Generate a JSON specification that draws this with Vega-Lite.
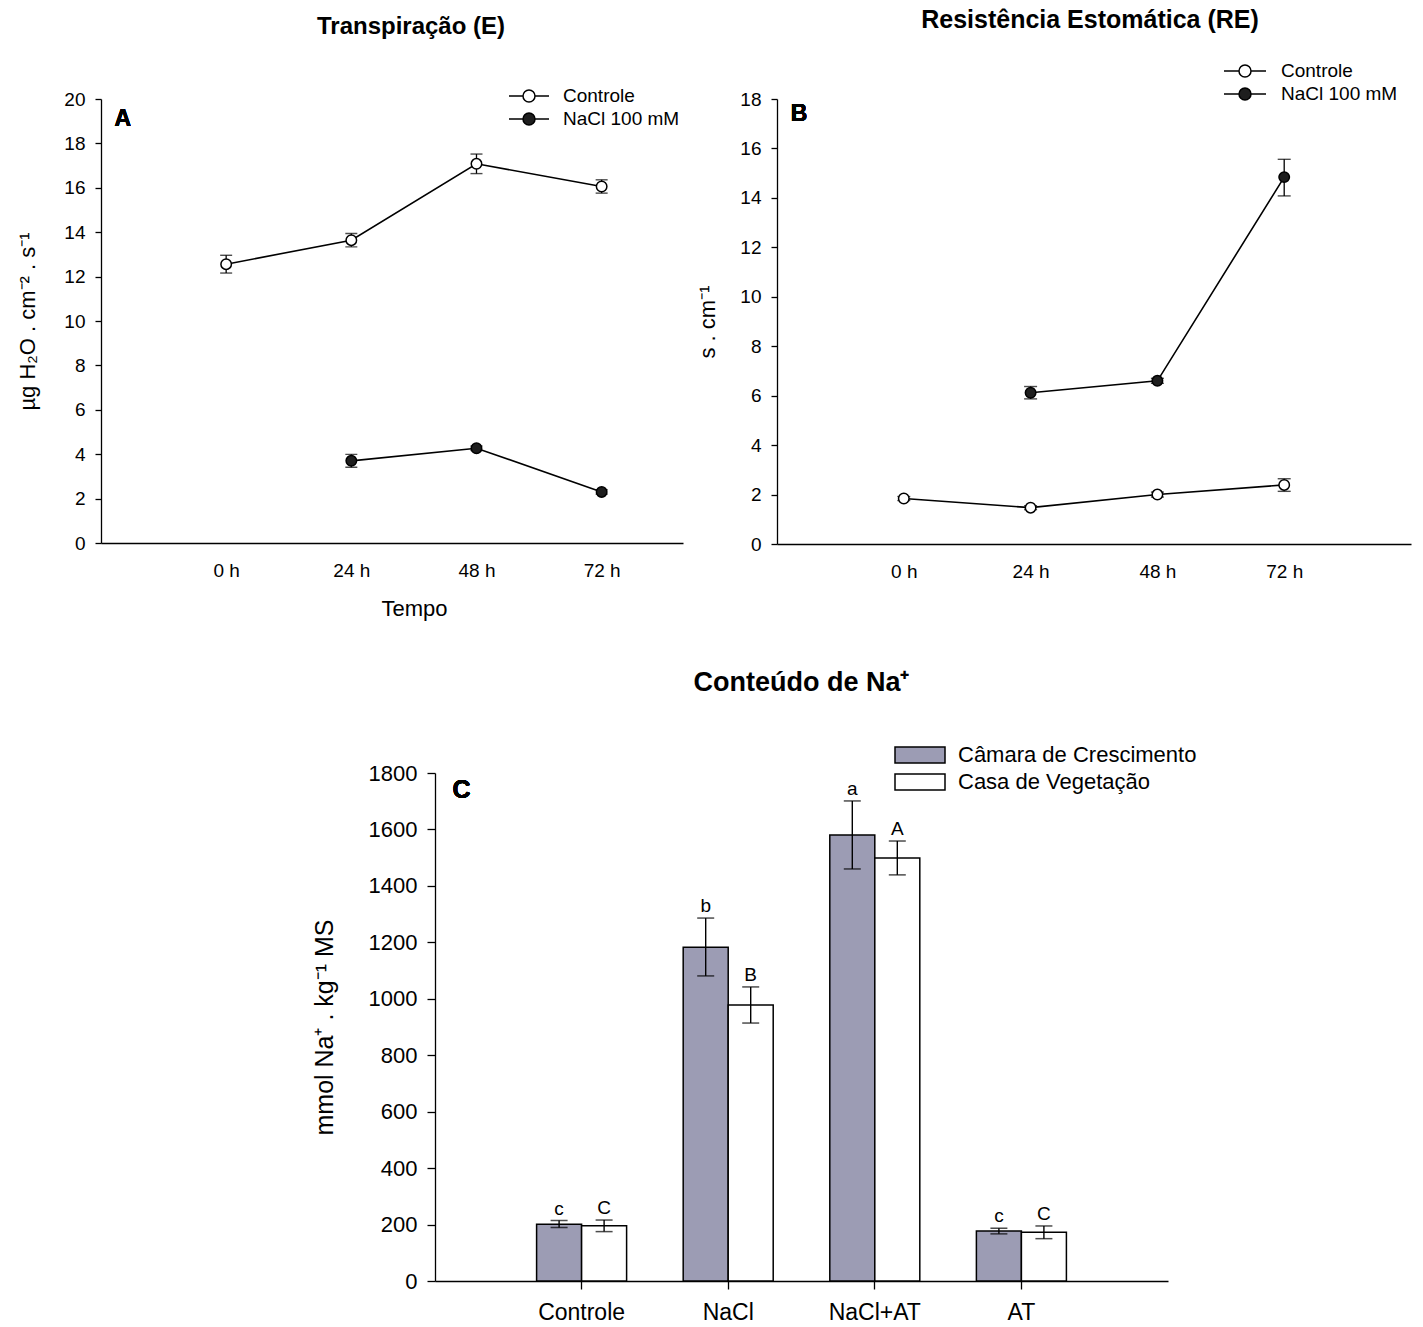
{
  "$schema": "https://vega.github.io/schema/vega-lite/v6.json",
  "background": "white",
  "padding": {"left": 16, "top": 8, "right": 5, "bottom": 5},
  "config": {
    "font": "Liberation Sans",
    "view": {"stroke": null},
    "axis": {"domainColor": "black", "tickColor": "black", "labelColor": "black", "titleColor": "black", "grid": false, "labelFont": "Liberation Sans", "titleFont": "Liberation Sans", "titleFontWeight": "normal", "domainWidth": 1.3, "tickWidth": 1.3},
    "title": {"font": "Liberation Sans", "fontWeight": "bold", "color": "black"},
    "legend": {"labelFont": "Liberation Sans", "labelColor": "black", "labelLimit": 400}
  },
  "resolve": {"scale": {"fill": "independent"}, "legend": {"fill": "independent"}},
  "spacing": 50,
  "vconcat": [
    {
      "spacing": 13,
      "resolve": {"scale": {"fill": "independent"}, "legend": {"fill": "independent"}},
      "hconcat": [
        {
          "title": {"text": "Transpiração (E)", "fontSize": 24, "offset": 46, "dx": 19},
          "width": 582,
          "height": 444,
          "data": {"values": [
            {"serie": "Controle", "t": 0, "v": 12.56, "lo": 12.16, "hi": 12.96},
            {"serie": "Controle", "t": 24, "v": 13.64, "lo": 13.34, "hi": 13.94},
            {"serie": "Controle", "t": 48, "v": 17.08, "lo": 16.64, "hi": 17.52},
            {"serie": "Controle", "t": 72, "v": 16.06, "lo": 15.76, "hi": 16.36},
            {"serie": "NaCl 100 mM", "t": 24, "v": 3.7, "lo": 3.41, "hi": 3.99},
            {"serie": "NaCl 100 mM", "t": 48, "v": 4.27, "lo": 4.17, "hi": 4.37},
            {"serie": "NaCl 100 mM", "t": 72, "v": 2.3, "lo": 2.2, "hi": 2.4}
          ]},
          "encoding": {
            "x": {"field": "t", "type": "quantitative", "scale": {"domain": [-24, 87.6], "nice": false, "zero": false},
              "axis": {"title": "Tempo", "titleFontSize": 22, "titlePadding": 18, "titleX": 313, "values": [0, 24, 48, 72], "labelExpr": "datum.value + ' h'", "labelFontSize": 19, "ticks": false, "labelPadding": 18}},
            "y": {"field": "v", "type": "quantitative", "scale": {"domain": [0, 20], "nice": false},
              "axis": {"title": "µg H₂O . cm⁻² . s⁻¹", "titleFontSize": 22, "titlePadding": 24, "values": [0, 2, 4, 6, 8, 10, 12, 14, 16, 18, 20], "labelFontSize": 19, "tickSize": 6, "labelPadding": 10}}
          },
          "layer": [
            {"mark": {"type": "line", "color": "black", "strokeWidth": 1.6}, "encoding": {"detail": {"field": "serie"}}},
            {"mark": {"type": "rule", "color": "black", "strokeWidth": 1.3}, "encoding": {"y": {"field": "lo", "type": "quantitative"}, "y2": {"field": "hi"}}},
            {"mark": {"type": "tick", "orient": "horizontal", "color": "black", "size": 12, "thickness": 1.4}, "encoding": {"y": {"field": "lo", "type": "quantitative"}}},
            {"mark": {"type": "tick", "orient": "horizontal", "color": "black", "size": 12, "thickness": 1.4}, "encoding": {"y": {"field": "hi", "type": "quantitative"}}},
            {"mark": {"type": "point", "shape": "circle", "filled": true, "size": 110, "stroke": "black", "strokeWidth": 1.5, "opacity": 1},
              "encoding": {"fill": {"field": "serie", "type": "nominal", "scale": {"domain": ["Controle", "NaCl 100 mM"], "range": ["white", "#1e1e1e"]},
                "legend": {"orient": "none", "legendX": 417, "legendY": -14, "rowPadding": 2, "title": null, "symbolType": "M-2,0H-0.6M0.6,0H2M0.6,0A0.6,0.6,0,1,1,-0.6,0A0.6,0.6,0,1,1,0.6,0", "symbolSize": 400, "symbolStrokeColor": "black", "symbolStrokeWidth": 1.5, "labelFontSize": 19, "labelOffset": 23}}}},
            {"mark": {"type": "text", "fontSize": 23, "fontWeight": "bold", "align": "left", "baseline": "middle", "color": "black"},
              "encoding": {"x": {"datum": -21.4, "type": "quantitative"}, "y": {"datum": 19.1, "type": "quantitative"}, "text": {"value": "A"}}}
          ]
        },
        {
          "title": {"text": "Resistência Estomática (RE)", "fontSize": 25, "offset": 27, "dx": -4},
          "width": 634,
          "height": 445,
          "data": {"values": [
            {"serie": "Controle", "t": 0, "v": 1.84, "lo": 1.76, "hi": 1.92},
            {"serie": "Controle", "t": 24, "v": 1.47, "lo": 1.39, "hi": 1.55},
            {"serie": "Controle", "t": 48, "v": 2.0, "lo": 1.9, "hi": 2.1},
            {"serie": "Controle", "t": 72, "v": 2.39, "lo": 2.13, "hi": 2.64},
            {"serie": "NaCl 100 mM", "t": 24, "v": 6.12, "lo": 5.87, "hi": 6.37},
            {"serie": "NaCl 100 mM", "t": 48, "v": 6.6, "lo": 6.5, "hi": 6.7},
            {"serie": "NaCl 100 mM", "t": 72, "v": 14.84, "lo": 14.08, "hi": 15.56}
          ]},
          "encoding": {
            "x": {"field": "t", "type": "quantitative", "scale": {"domain": [-24, 96], "nice": false, "zero": false},
              "axis": {"title": null, "values": [0, 24, 48, 72], "labelExpr": "datum.value + ' h'", "labelFontSize": 19, "ticks": false, "labelPadding": 18}},
            "y": {"field": "v", "type": "quantitative", "scale": {"domain": [0, 18], "nice": false},
              "axis": {"title": "s . cm⁻¹", "titleFontSize": 22, "titlePadding": 20, "values": [0, 2, 4, 6, 8, 10, 12, 14, 16, 18], "labelFontSize": 19, "tickSize": 6, "labelPadding": 10}}
          },
          "layer": [
            {"mark": {"type": "line", "color": "black", "strokeWidth": 1.6}, "encoding": {"detail": {"field": "serie"}}},
            {"mark": {"type": "rule", "color": "black", "strokeWidth": 1.3}, "encoding": {"y": {"field": "lo", "type": "quantitative"}, "y2": {"field": "hi"}}},
            {"mark": {"type": "tick", "orient": "horizontal", "color": "black", "size": 13, "thickness": 1.4}, "encoding": {"y": {"field": "lo", "type": "quantitative"}}},
            {"mark": {"type": "tick", "orient": "horizontal", "color": "black", "size": 13, "thickness": 1.4}, "encoding": {"y": {"field": "hi", "type": "quantitative"}}},
            {"mark": {"type": "point", "shape": "circle", "filled": true, "size": 110, "stroke": "black", "strokeWidth": 1.5, "opacity": 1},
              "encoding": {"fill": {"field": "serie", "type": "nominal", "scale": {"domain": ["Controle", "NaCl 100 mM"], "range": ["white", "#1e1e1e"]},
                "legend": {"orient": "none", "legendX": 457, "legendY": -39, "rowPadding": 2, "title": null, "symbolType": "M-2.1,0H-0.6M0.6,0H2.1M0.6,0A0.6,0.6,0,1,1,-0.6,0A0.6,0.6,0,1,1,0.6,0", "symbolSize": 400, "symbolStrokeColor": "black", "symbolStrokeWidth": 1.5, "labelFontSize": 19, "labelOffset": 25}}}},
            {"mark": {"type": "text", "fontSize": 23, "fontWeight": "bold", "align": "left", "baseline": "middle", "color": "black"},
              "encoding": {"x": {"datum": -21.4, "type": "quantitative"}, "y": {"datum": 17.4, "type": "quantitative"}, "text": {"value": "B"}}}
          ]
        }
      ]
    },
    {
      "spacing": 0,
      "resolve": {"scale": {"fill": "independent"}, "legend": {"fill": "independent"}},
      "hconcat": [
        {"width": 211, "height": 1, "data": {"values": []}, "mark": "point"},
        {
          "title": {"text": "Conteúdo de Na⁺", "fontSize": 27, "offset": 47},
          "width": 733,
          "height": 508,
          "data": {"values": [
            {"g": "Controle", "s": "Câmara de Crescimento", "v": 201, "lo": 190, "hi": 214, "letra": "c"},
            {"g": "Controle", "s": "Casa de Vegetação", "v": 196, "lo": 175, "hi": 216, "letra": "C"},
            {"g": "NaCl", "s": "Câmara de Crescimento", "v": 1183, "lo": 1081, "hi": 1286, "letra": "b"},
            {"g": "NaCl", "s": "Casa de Vegetação", "v": 978, "lo": 914, "hi": 1042, "letra": "B"},
            {"g": "NaCl+AT", "s": "Câmara de Crescimento", "v": 1580, "lo": 1460, "hi": 1701, "letra": "a"},
            {"g": "NaCl+AT", "s": "Casa de Vegetação", "v": 1499, "lo": 1439, "hi": 1559, "letra": "A"},
            {"g": "AT", "s": "Câmara de Crescimento", "v": 177, "lo": 167, "hi": 187, "letra": "c"},
            {"g": "AT", "s": "Casa de Vegetação", "v": 173, "lo": 150, "hi": 195, "letra": "C"}
          ]},
          "encoding": {
            "x": {"field": "g", "type": "nominal", "sort": ["Controle", "NaCl", "NaCl+AT", "AT"], "scale": {"paddingInner": 0.386, "paddingOuter": 0.693},
              "axis": {"title": null, "labelAngle": 0, "labelFontSize": 23, "tickSize": 8, "labelPadding": 12}},
            "xOffset": {"field": "s", "type": "nominal", "sort": ["Câmara de Crescimento", "Casa de Vegetação"], "scale": {"paddingInner": 0, "paddingOuter": 0}},
            "y": {"field": "v", "type": "quantitative", "scale": {"domain": [0, 1800], "nice": false},
              "axis": {"title": "mmol Na⁺ . kg⁻¹ MS", "titleFontSize": 25, "titlePadding": 31, "format": "d", "values": [0, 200, 400, 600, 800, 1000, 1200, 1400, 1600, 1800], "labelFontSize": 22, "tickSize": 8, "labelPadding": 10}}
          },
          "layer": [
            {"mark": {"type": "bar", "stroke": "black", "strokeWidth": 1.5},
              "encoding": {"fill": {"field": "s", "type": "nominal", "scale": {"domain": ["Câmara de Crescimento", "Casa de Vegetação"], "range": ["#9c9cb4", "white"]},
                "legend": {"orient": "none", "legendX": 474, "legendY": -29, "rowPadding": 5, "title": null, "symbolType": "M-3.125,-1H3.125V1H-3.125Z", "symbolSize": 256, "symbolStrokeColor": "black", "symbolStrokeWidth": 1.5, "labelFontSize": 22, "labelOffset": 27}}}},
            {"mark": {"type": "rule", "color": "black", "strokeWidth": 1.4}, "encoding": {"y": {"field": "lo", "type": "quantitative"}, "y2": {"field": "hi"}}},
            {"mark": {"type": "tick", "orient": "horizontal", "color": "black", "size": 17, "thickness": 1.5}, "encoding": {"y": {"field": "lo", "type": "quantitative"}}},
            {"mark": {"type": "tick", "orient": "horizontal", "color": "black", "size": 17, "thickness": 1.5}, "encoding": {"y": {"field": "hi", "type": "quantitative"}}},
            {"mark": {"type": "text", "fontSize": 19, "baseline": "alphabetic", "dy": -6, "color": "black"}, "encoding": {"y": {"field": "hi", "type": "quantitative"}, "text": {"field": "letra"}}},
            {"mark": {"type": "text", "fontSize": 25, "fontWeight": "bold", "align": "center", "baseline": "middle", "dx": -75, "color": "black"},
              "encoding": {"x": {"datum": "Controle", "bandPosition": 0}, "xOffset": {"value": 0}, "y": {"datum": 1740, "type": "quantitative"}, "text": {"value": "C"}}}
          ]
        }
      ]
    }
  ]
}
